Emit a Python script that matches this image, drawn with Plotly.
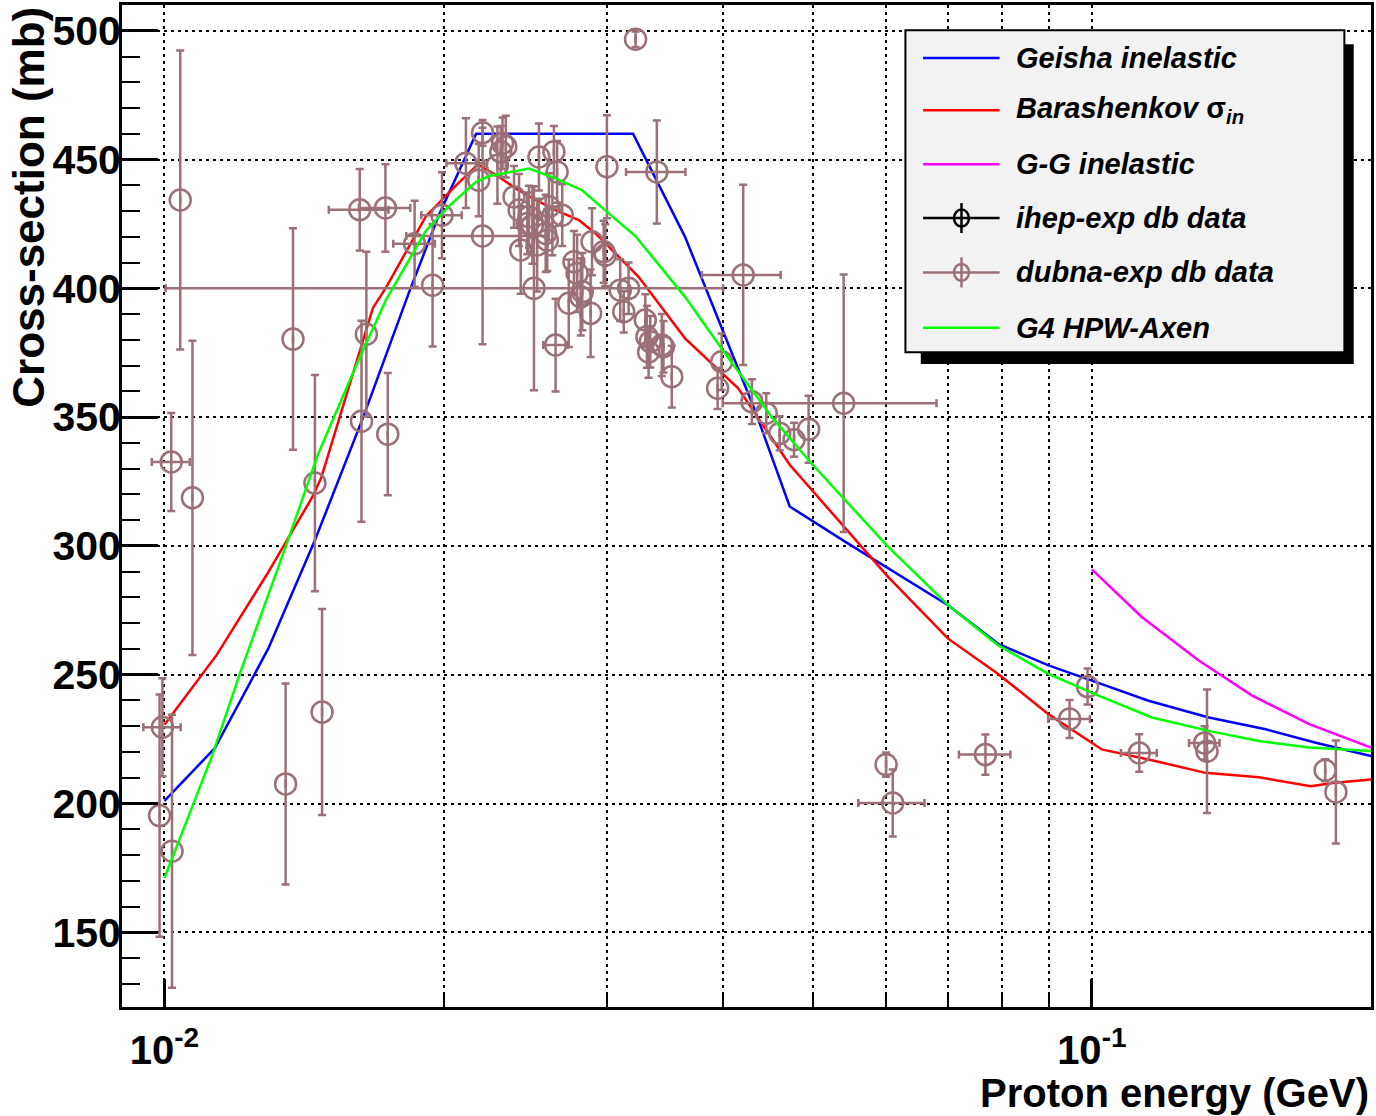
import plotly.graph_objects as go

# ---------------- data ----------------
geisha_x = [0.01, 0.01134, 0.01294, 0.01453, 0.01637, 0.01837, 0.01979, 0.02168, 0.03201, 0.03642,
            0.04331, 0.04723, 0.05456, 0.06998, 0.07925, 0.08978, 0.1, 0.1151, 0.1337, 0.1540, 0.1744, 0.2]
geisha_y = [201.0, 221.6, 260.1, 302.2, 349.7, 398.8, 428.9, 460.0, 460.0, 420.0,
            352.8, 315.3, 301.0, 277.0, 262.0, 253.6, 247.7, 239.9, 233.4, 228.8, 223.6, 218.4]

barash_x = [0.01, 0.01139, 0.01289, 0.01447, 0.01477, 0.01611, 0.01678, 0.01734, 0.01915, 0.02063,
            0.02177, 0.02278, 0.02392, 0.02514, 0.02641, 0.02798, 0.02916, 0.03089, 0.03245, 0.03642,
            0.04156, 0.04723, 0.06026, 0.06998, 0.07925, 0.08978, 0.1025, 0.1151, 0.1326, 0.1514,
            0.1722, 0.1818, 0.2]
barash_y = [230.6, 257.8, 288.8, 319.6, 326.8, 371.9, 392.4, 400.4, 428.1, 440.0,
            448.1, 444.0, 438.8, 434.3, 430.4, 426.5, 421.3, 412.3, 404.5, 380.6,
            361.2, 331.5, 288.1, 264.0, 250.3, 234.7, 221.0, 217.1, 211.9, 210.2,
            206.7, 208.0, 209.3]

gg_x = [0.1, 0.1132, 0.1304, 0.1489, 0.1716, 0.2]
gg_y = [290.9, 272.4, 255.5, 241.9, 230.8, 221.7]

axen_x = [0.01, 0.01125, 0.01207, 0.01354, 0.01464, 0.01611, 0.01734, 0.01915, 0.02028, 0.02168,
          0.0224, 0.02473, 0.02641, 0.02821, 0.03014, 0.03219, 0.03642, 0.04021, 0.04514, 0.04983,
          0.06024, 0.06998, 0.07925, 0.08978, 0.1017, 0.1161, 0.1337, 0.1514, 0.1716, 0.2]
axen_y = [171.1, 218.3, 250.8, 300.6, 335.5, 370.3, 395.6, 422.5, 432.0, 441.4,
          443.6, 446.5, 442.7, 438.1, 429.1, 420.3, 396.7, 374.8, 350.2, 332.1,
          299.8, 277.0, 261.4, 250.3, 241.9, 233.4, 228.2, 224.3, 221.7, 220.4]

dubna_x = [0.00995, 0.00988, 0.01019, 0.01017, 0.0104, 0.01072, 0.01351, 0.01376, 0.01453, 0.01479,
           0.01631, 0.01651, 0.01741, 0.01624, 0.01731, 0.01861, 0.01992, 0.01946, 0.02114, 0.02203,
           0.02182, 0.02203, 0.02286, 0.02315, 0.02334, 0.02305, 0.02382, 0.02534, 0.0263, 0.02651,
           0.02412, 0.02472, 0.02462, 0.02493, 0.02598, 0.0262, 0.02685, 0.02577, 0.02587, 0.02422,
           0.02523, 0.02891, 0.02976, 0.02988, 0.03, 0.02764, 0.02786, 0.02729, 0.02811, 0.02822,
           0.02881, 0.02641, 0.02503, 0.03101, 0.03166, 0.03128, 0.033, 0.03313, 0.03341, 0.03327,
           0.03438, 0.03452, 0.03524, 0.03396, 0.03221, 0.03989, 0.03949, 0.04208, 0.043, 0.04456,
           0.04607, 0.04774, 0.0495, 0.054, 0.06, 0.061, 0.07679, 0.09463, 0.09894, 0.1125,
           0.1323, 0.1331, 0.1785, 0.1833]
dubna_y = [229.6, 195.3, 181.5, 332.6, 434.3, 318.7, 207.6, 380.3, 324.4, 235.5,
           348.4, 382.2, 343.4, 430.5, 431.2, 417.3, 428.4, 401.2, 448.6, 460.4,
           442.0, 420.3, 447.8, 456.3, 455.0, 453.0, 435.5, 451.0, 453.0, 445.2,
           430.4, 427.8, 425.2, 424.5, 431.7, 427.8, 428.4, 421.3, 418.7, 414.9,
           416.8, 418.1, 414.2, 412.9, 447.2, 410.3, 405.8, 394.2, 396.7, 398.7,
           390.3, 378.0, 400.0, 399.3, 400.0, 390.9, 387.7, 381.2, 379.3, 375.3,
           378.0, 377.3, 365.7, 445.2, 496.7, 371.5, 361.2, 405.2, 356.0, 351.5,
           343.7, 341.2, 345.3, 355.4, 215.1, 200.2, 219.0, 232.8, 245.4, 219.6,
           223.5, 220.3, 212.9, 204.5]
dubna_ex = [0.00046, 0, 0, 0.00048, 0, 0, 0, 0, 0, 0,
            0, 0, 0, 0.0012, 0.0011, 0.00096, 0.001, 0, 0.001, 0,
            0, 0.0038, 0, 0, 0, 0, 0, 0, 0, 0,
            0, 0, 0, 0, 0, 0, 0, 0, 0, 0,
            0, 0, 0, 0, 0, 0, 0, 0, 0, 0,
            0, 0.0008, 0.015, 0, 0, 0, 0, 0, 0, 0,
            0, 0, 0, 0.0025, 0, 0, 0, 0.0041, 0, 0,
            0, 0, 0, 0.014, 0, 0.005, 0.0049, 0.0049, 0, 0.005,
            0.005, 0, 0, 0]
dubna_ey = [19, 47, 53, 19, 58, 61, 39, 43, 42, 40,
            39, 32, 23.7, 15.8, 17, 16.7, 16.7, 23.8, 17.4, 5,
            14, 42, 15, 10, 12, 10, 12, 13, 10, 12,
            14, 12, 12, 15, 13, 15, 12, 15, 12, 17,
            18, 13, 12, 12, 20, 12, 15, 17, 15, 15,
            17, 18, 39.6, 12, 10, 8, 10, 12, 10, 10,
            12, 10, 12, 20, 3, 11, 8, 35, 8.7, 7.8,
            6.6, 6.6, 13, 50, 4.7, 13, 7.8, 7.4, 7, 7.3,
            6.5, 24, 4.3, 20]

legend_labels = ["<i>Geisha inelastic</i>", "<i>Barashenkov </i>\u03c3<sub><i>in</i></sub>",
                 "<i>G-G inelastic</i>", "<i>ihep-exp db data</i>", "<i>dubna-exp db data</i>",
                 "<i>G4 HPW-Axen</i>"]

# ---------------- style ----------------
FONT = "Liberation Sans, Arial, Helvetica, sans-serif"
BLUE, RED, MAG, GREEN = "#0000ff", "#ff0000", "#ff00ff", "#00ff00"
DUB = "#9b7077"

# plot area in pixels
L, R, T, B = 122, 1374, 4, 1007
def xp(px):
    return (px - L) / (R - L)
def yp(py):
    return (B - py) / (B - T)

fig = go.Figure()
lw = 2.5
fig.add_trace(go.Scatter(x=geisha_x, y=geisha_y, mode="lines", line=dict(color=BLUE, width=lw)))
fig.add_trace(go.Scatter(x=barash_x, y=barash_y, mode="lines", line=dict(color=RED, width=lw)))
fig.add_trace(go.Scatter(x=gg_x, y=gg_y, mode="lines", line=dict(color=MAG, width=lw)))
fig.add_trace(go.Scatter(
    x=dubna_x, y=dubna_y, mode="markers",
    marker=dict(symbol="circle-open", size=21, color=DUB, line=dict(width=2.5, color=DUB)),
    error_x=dict(type="data", array=dubna_ex, visible=True, color=DUB, thickness=2.5, width=4),
    error_y=dict(type="data", array=dubna_ey, visible=True, color=DUB, thickness=2.5, width=4),
))
fig.add_trace(go.Scatter(x=axen_x, y=axen_y, mode="lines", line=dict(color=GREEN, width=lw)))

GRID = "3px,4px"
fig.update_xaxes(
    type="log", range=[-2.04576, -0.69897],
    tickvals=[0.01, 0.1], ticktext=["10<sup>-2</sup>", "10<sup>-1</sup>"],
    ticks="inside", ticklen=28, tickwidth=2.5, tickcolor="black",
    showgrid=True, gridcolor="black", gridwidth=2, griddash=GRID,
    minor=dict(tickmode="array", tickvals=[0.02, 0.03, 0.04, 0.05, 0.06, 0.07, 0.08, 0.09, 0.2],
               ticks="inside", ticklen=14, tickwidth=2, tickcolor="black",
               showgrid=True, gridcolor="black", gridwidth=2, griddash=GRID),
    showline=True, linewidth=3, linecolor="black", mirror=True, zeroline=False,
    tickfont=dict(family=FONT, size=40, color="black", weight="bold"),
    ticklabelstandoff=6,
)
fig.update_yaxes(
    range=[121, 510], tickvals=[150, 200, 250, 300, 350, 400, 450, 500],
    ticks="inside", ticklen=36, tickwidth=2.5, tickcolor="black",
    showgrid=True, gridcolor="black", gridwidth=2, griddash=GRID,
    minor=dict(dtick=10, ticks="inside", ticklen=18, tickwidth=2, tickcolor="black", showgrid=False),
    showline=True, linewidth=3, linecolor="black", mirror=True, zeroline=False,
    tickfont=dict(family=FONT, size=41, color="black", weight="bold"),
    ticklabelstandoff=-10,
)

shapes = []
annotations = []
# legend shadow and box
shapes.append(dict(type="rect", xref="paper", yref="paper", x0=xp(922.7), x1=xp(1356.7),
                   y0=yp(363.3), y1=yp(43.3), fillcolor="black", line=dict(width=0), layer="above"))
shapes.append(dict(type="rect", xref="paper", yref="paper", x0=xp(907.3), x1=xp(1347.3),
                   y0=yp(351.7), y1=yp(29.3), fillcolor="#f2f2f2", line=dict(color="black", width=2),
                   layer="above"))
entry_y = [57, 109.3, 163.3, 217.3, 271.7, 327]
entry_col = [BLUE, RED, MAG, "black", DUB, GREEN]
for i, (lab, py, c) in enumerate(zip(legend_labels, entry_y, entry_col)):
    shapes.append(dict(type="line", xref="paper", yref="paper", x0=xp(925), x1=xp(1001.7),
                       y0=yp(py), y1=yp(py), line=dict(color=c, width=2.5), layer="above"))
    if i in (3, 4):
        shapes.append(dict(type="circle", xref="paper", yref="paper", x0=xp(963.5 - 7.5), x1=xp(963.5 + 7.5),
                           y0=yp(py + 8.5), y1=yp(py - 8.5), line=dict(color=c, width=2.5),
                           fillcolor="rgba(0,0,0,0)", layer="above"))
        shapes.append(dict(type="line", xref="paper", yref="paper", x0=xp(963.5), x1=xp(963.5),
                           y0=yp(py + 15), y1=yp(py - 15), line=dict(color=c, width=2.5), layer="above"))
    annotations.append(dict(xref="paper", yref="paper", x=xp(1016), y=yp(py), xanchor="left",
                            yanchor="middle", text="<b>%s</b>" % lab, showarrow=False,
                            font=dict(family=FONT, size=29, color="black")))

# axis titles
annotations.append(dict(xref="paper", yref="paper", x=xp(28), y=yp(4), xanchor="center", yanchor="top",
                        textangle=-90, text="<b>Cross-section (mb)</b>", showarrow=False,
                        font=dict(family=FONT, size=44, color="black")))
annotations.append(dict(xref="paper", yref="paper", x=1.0, y=yp(1093), xanchor="right", yanchor="middle",
                        text="<b>Proton energy (GeV)</b>", showarrow=False,
                        font=dict(family=FONT, size=40, color="black")))

fig.update_layout(
    width=1376, height=1116, margin=dict(l=L, r=1376 - R, t=T, b=1116 - B),
    paper_bgcolor="white", plot_bgcolor="white", showlegend=False,
    shapes=shapes, annotations=annotations,
)
fig.write_html("out.html")
